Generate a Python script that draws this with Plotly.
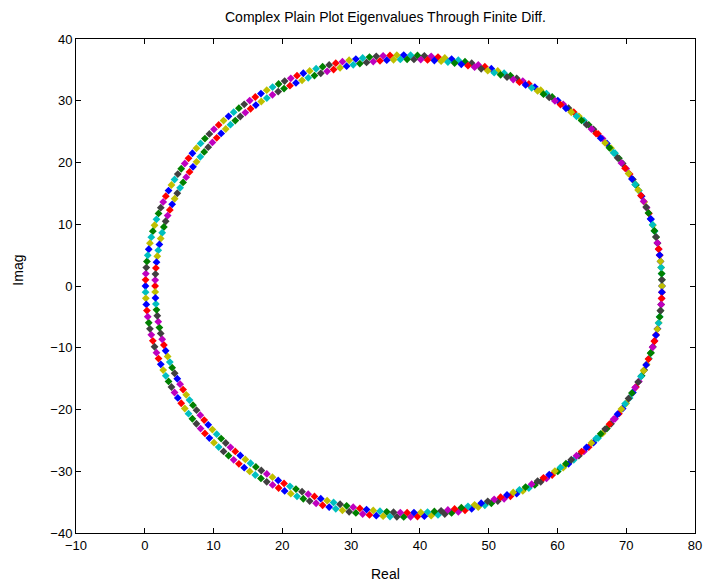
import numpy as np
import plotly.graph_objects as go

# ---- text / axes ----
title_text = "Complex Plain Plot Eigenvalues Through Finite Diff."
x_label = "Real"
y_label = "Imag"
x_ticks = [-10, 0, 10, 20, 30, 40, 50, 60, 70, 80]
y_ticks = [-40, -30, -20, -10, 0, 10, 20, 30, 40]

# ---- the two rings of eigenvalues ----
ring_sizes = [236, 234]        # eigenvalues per ring (from marker spacing)
ring_left = [0.1, 0.1]         # real part where the outer ellipse meets Imag = 0 on the left
ring_right = [75.2, 75.2]      # real part where the ring crosses Imag = 0 on the right
ring_top = [37.4, 37.4]        # largest imaginary part of the outer ellipse
ring_inset = [0.0, 1.4]        # how far the ring sits inside the outer one on the left side

# MATLAB's classic line colour order
color_order = ["#0000FF", "#008000", "#FF0000", "#00BFBF", "#BF00BF", "#BFBF00", "#404040"]


def finite_diff_eigs(n, left, right, top, inset):
    """Eigenvalues of a periodic (circulant) finite-difference stencil operator."""
    c = (left + right) / 2.0
    a = (right - left) / 2.0
    I = np.eye(n)
    S = np.roll(I, 1, axis=1)          # periodic shift: eigenvalues e^{i t}
    ST = S.T                           # eigenvalues e^{-i t}
    M = (c + inset / 4.0) * I - a * (S + ST) / 2.0 + top * (S - ST) / 2.0 \
        + (inset / 2.0) * ST + (inset / 4.0) * (ST @ ST)
    return np.linalg.eigvals(M)


re_all, im_all, col_all = [], [], []
k = 0
for n, l, r, t, d in zip(ring_sizes, ring_left, ring_right, ring_top, ring_inset):
    ev = finite_diff_eigs(n, l, r, t, d)
    for z in ev:
        re_all.append(z.real)
        im_all.append(z.imag)
        col_all.append(color_order[k % len(color_order)])
        k += 1

fig = go.Figure()
fig.add_trace(go.Scatter(
    x=re_all, y=im_all, mode="markers",
    marker=dict(symbol="diamond", size=6, color=col_all, line=dict(width=0)),
    hoverinfo="skip", showlegend=False,
))

font_family = "Liberation Sans, Arial, sans-serif"
axis_common = dict(
    showgrid=False, zeroline=False, showline=True, linecolor="black", linewidth=1,
    mirror="ticks", ticks="inside", ticklen=5, tickcolor="black", tickwidth=1,
    tickfont=dict(family=font_family, size=13, color="black"),
)

fig.update_layout(
    width=712, height=588,
    margin=dict(l=76, r=10, t=39, b=55, pad=0),
    paper_bgcolor="white", plot_bgcolor="white",
    xaxis=dict(range=[-10, 80], tickvals=x_ticks, **axis_common),
    yaxis=dict(range=[-40, 40], tickvals=y_ticks, **axis_common),
    annotations=[
        dict(text=title_text, xref="paper", yref="paper", x=0.5, y=(533 - 17) / 494,
             xanchor="center", yanchor="middle", showarrow=False,
             font=dict(family=font_family, size=14, color="black")),
        dict(text=x_label, xref="paper", yref="paper", x=0.5, y=-(574 - 533) / 494,
             xanchor="center", yanchor="middle", showarrow=False,
             font=dict(family=font_family, size=14, color="black")),
        dict(text=y_label, xref="paper", yref="paper", x=(17 - 76) / 626, y=(533 - 270) / 494,
             xanchor="center", yanchor="middle", showarrow=False, textangle=-90,
             font=dict(family=font_family, size=14, color="black")),
    ],
)

fig.write_html("out.html")
